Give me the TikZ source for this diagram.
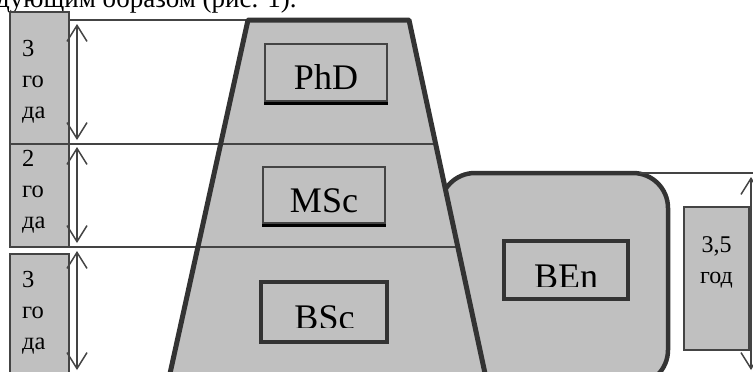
\documentclass[tikz,border=0pt]{standalone}
\usepackage{fontspec}
\setmainfont{Liberation Serif}
\usetikzlibrary{arrows.meta}
\definecolor{fillg}{HTML}{C0C0C0}
\definecolor{edgec}{HTML}{333333}
\definecolor{thinc}{HTML}{444444}
\begin{document}
\begin{tikzpicture}[x=1pt,y=-1pt,
  gbox/.style={draw=thinc, fill=fillg, line width=1.5pt, inner sep=0pt},
  degbox/.style={draw=edgec, fill=fillg, inner sep=0pt},
  big/.style={font=\fontsize{36}{36}\selectfont, inner sep=0pt, anchor=base},
  small/.style={font=\fontsize{24.5}{31}\selectfont, align=left, inner sep=0pt, anchor=north west},
  hline/.style={draw=thinc, line width=1.5pt},
  dim/.style={draw=thinc, line width=1.5pt, {Straight Barb[length=16pt,width=20pt]}-{Straight Barb[length=16pt,width=20pt]}}
]
\useasboundingbox (0,0) rectangle (753,372);
\clip (0,0) rectangle (753,372);

% top cut text line
\node[font=\fontsize{27}{27}\selectfont, inner sep=0pt, anchor=base west] (toptext) at (-4,7) {дующим образом (рис. 1).};

% BEn rounded block (behind the trapezoid)
\draw[draw=edgec, fill=fillg, line width=4.5pt, rounded corners=35pt] (440,173) rectangle (668,385);
\coordinate (benTR) at (640,173);
\coordinate (rEnd) at (753,173);
\draw[hline] (benTR) -- (rEnd);

% trapezoid
\coordinate (tl) at (248,20);
\coordinate (tr) at (409,20);
\coordinate (br) at (486,378);
\coordinate (bl) at (169,378);
\fill[fillg] (tl) -- (tr) -- (br) -- (bl) -- cycle;

% left year boxes
\node[gbox, minimum width=59pt, minimum height=132pt] (y1) at (39.5,78) {};
\node[gbox, minimum width=59pt, minimum height=103pt] (y2) at (39.5,195.5) {};
\node[gbox, minimum width=59pt, minimum height=131pt] (y3) at (39.5,319.5) {};
\node[small] (t1) at (22,40) {3\\го\\да};
\node[small] (t2) at (22,150) {2\\го\\да};
\node[small] (t3) at (22,271) {3\\го\\да};

% horizontal level lines
\coordinate (a1) at (69,20);
\coordinate (a2) at (69,144);
\coordinate (a3) at (69,247);
\coordinate (b2) at (436,144);
\coordinate (b3) at (458,247);
\draw[hline] (a1) -- (tl);
\draw[hline] (a2) -- (b2);
\draw[hline] (a3) -- (b3);

% trapezoid border
\draw[edgec, line width=5pt, line join=round] (bl) -- (tl) -- (tr) -- (br);

% dimension arrows
\coordinate (d1s) at (77,24);  \coordinate (d1e) at (77,140);
\coordinate (d2s) at (77,147); \coordinate (d2e) at (77,243);
\coordinate (d3s) at (77,251); \coordinate (d3e) at (77,370);
\coordinate (d4s) at (751,177); \coordinate (d4e) at (751,370);
\draw[dim] (d1s) -- (d1e);
\draw[dim] (d2s) -- (d2e);
\draw[dim] (d3s) -- (d3e);
\draw[dim] (d4s) -- (d4e);

% degree boxes
\node[degbox, line width=1.5pt, draw=thinc, minimum width=122pt, minimum height=57pt] (phd) at (326,72.5) {};
\draw[black, line width=3pt] ([yshift=-1.5pt]phd.south west) -- ([yshift=-1.5pt]phd.south east);
\node[big] (phdt) at (326,89) {PhD};

\node[degbox, line width=1.5pt, draw=thinc, minimum width=122pt, minimum height=56pt] (msc) at (324,195) {};
\draw[black, line width=3pt] ([yshift=-1.5pt]msc.south west) -- ([yshift=-1.5pt]msc.south east);
\node[big] (msct) at (324,212) {MSc};

\node[degbox, line width=4pt, minimum width=126pt, minimum height=60pt] (bsc) at (324,312) {};
\begin{scope}
  \clip (262,284) rectangle (386,327);
  \node[big] (bsct) at (324.5,329) {BSc};
\end{scope}

\node[degbox, line width=4pt, minimum width=124pt, minimum height=58pt] (ben) at (566,270) {};
\begin{scope}
  \clip (506,243) rectangle (626,286);
  \node[big] (bent) at (566,288) {BEn};
\end{scope}

% right year box
\node[gbox, minimum width=65pt, minimum height=143pt] (y4) at (716.5,278.5) {};
\node[font=\fontsize{24}{31}\selectfont, align=center, inner sep=0pt, anchor=base] (t4) at (716.5,283) {3,5\\год};
\end{tikzpicture}
\end{document}
